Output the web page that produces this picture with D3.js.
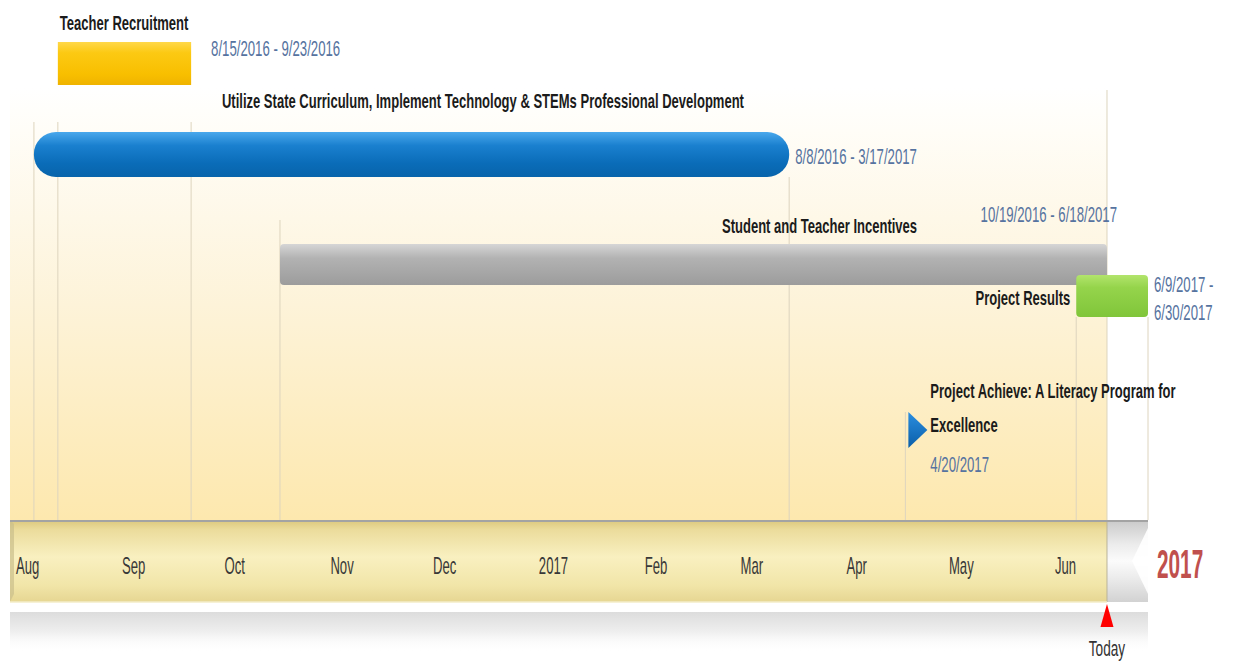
<!DOCTYPE html>
<html>
<head>
<meta charset="utf-8">
<script src="https://cdn.jsdelivr.net/npm/d3@7/dist/d3.min.js"></script>
<style>
  html, body { margin: 0; padding: 0; background: #ffffff; }
  svg { display: block; }
  text { font-family: "Liberation Sans", Arial, sans-serif; }
</style>
</head>
<body>
<svg id="chart" width="1233" height="665"></svg>
<script>
// ---------------- DATA ----------------
const taskNames = [
  "Teacher Recruitment",
  "Utilize State Curriculum,  Implement Technology & STEMs Professional Development",
  "Student and Teacher Incentives",
  "Project Results"
];
const taskStarts = ["2016-08-15", "2016-08-08", "2016-10-19", "2017-06-09"];
const taskEnds   = ["2016-09-23", "2017-03-17", "2017-06-18", "2017-06-30"];
const taskColors = ["yellow", "blue", "gray", "green"];

const milestoneNameLines = [["Project Achieve: A Literacy Program for", "Excellence"]];
const milestoneDates = ["2017-04-20"];

const timelineStart = "2016-08-01";
const timelineEnd   = "2017-06-30";
const todayDate     = "2017-06-18";
const yearLabel     = "2017";
const tickLabels = ["Aug", "Sep", "Oct", "Nov", "Dec", "2017", "Feb", "Mar", "Apr", "May", "Jun"];

// ---------------- SETUP ----------------
const parse = d3.utcParse("%Y-%m-%d");
const fmt = d3.utcFormat("%-m/%-d/%Y");
const svg = d3.select("#chart");
const defs = svg.append("defs");

const x = d3.scaleUtc()
  .domain([parse(timelineStart), parse(timelineEnd)])
  .range([10, 1148]);

const bandTop = 520, bandBottom = 602;
const xToday = x(parse(todayDate));

function grad(id, stops, horizontal) {
  const g = defs.append("linearGradient").attr("id", id)
    .attr("x1", 0).attr("y1", 0).attr("x2", horizontal ? 1 : 0).attr("y2", horizontal ? 0 : 1);
  stops.forEach(s => g.append("stop").attr("offset", s[0]).attr("stop-color", s[1]).attr("stop-opacity", s[2] === undefined ? 1 : s[2]));
  return "url(#" + id + ")";
}

const fills = {
  yellow: grad("gYellow", [[0, "#ffd84a"], [0.25, "#fcc913"], [0.75, "#f8bf00"], [1, "#efb300"]]),
  blue:   grad("gBlue",   [[0, "#4aa8ec"], [0.3, "#1a80cf"], [0.7, "#0a6cb8"], [1, "#0864ab"]]),
  gray:   grad("gGray",   [[0, "#d6d6d6"], [0.35, "#b2b2b2"], [1, "#9c9c9c"]]),
  green:  grad("gGreen",  [[0, "#b2e46c"], [0.3, "#95d44b"], [1, "#80c53a"]])
};
const bgFill = grad("gBg", [[0, "#ffffff"], [0.1, "#fffdf7"], [0.5, "#fdf3d9"], [1, "#fde8ae"]]);
const bandFill = grad("gBand", [[0, "#dcc77c"], [0.12, "#ebdc9c"], [0.45, "#f9f0c0"], [0.8, "#f1e5a8"], [1, "#e6d692"]]);
const endFill = grad("gEnd", [[0, "#c9c9c9"], [0.3, "#ececec"], [0.5, "#fbfbfb"], [0.7, "#ececec"], [1, "#d2d2d2"]]);
const reflFill = grad("gRefl", [[0, "#dcdcdc"], [0.5, "#efefef"], [1, "#ffffff", 0]]);
const msFill = grad("gMs", [[0, "#2a8ee0"], [1, "#0a5ea8"]]);

// layout of the rows (pixel placement, not data)
const rowLayout = [
  { y: 42,  h: 43, rx: 0,  lineTop: 122, label: { dx: 2,   y: 30,  anchor: "start", ref: "start" },
    date: { dx: 20, ys: [56],  anchor: "start", ref: "end" } },
  { y: 132, h: 45, rx: 22, lineTop: 122, endLineTop: 177, label: { dx: 188, y: 108, anchor: "start", ref: "start" },
    date: { dx: 6,  ys: [164], anchor: "start", ref: "end" } },
  { y: 244, h: 41, rx: 4,  lineTop: 220, endLineTop: 90, label: { dx: 442, y: 233, anchor: "start", ref: "start" },
    date: { dx: 10, ys: [222], anchor: "end", ref: "end" } },
  { y: 275, h: 42, rx: 4,  lineTop: 317, label: { dx: -6, y: 305, anchor: "end", ref: "start" },
    date: { dx: 6,  ys: [292, 320], anchor: "start", ref: "end", split: true } }
];

function addText(parent, px, py, str, opts) {
  const g = parent.append("g").attr("transform", `translate(${px},${py}) scale(${opts.sx || 0.62},1)`);
  return g.append("text")
    .attr("x", 0).attr("y", 0)
    .attr("text-anchor", opts.anchor || "start")
    .attr("font-size", opts.size)
    .attr("font-weight", opts.weight || "normal")
    .attr("fill", opts.color)
    .text(str);
}

// ---------------- BACKGROUND ----------------
svg.append("rect").attr("x", x.range()[0]).attr("y", 88)
  .attr("width", xToday - x.range()[0]).attr("height", bandTop - 88)
  .attr("fill", bgFill);

// ---------------- GRID LINES ----------------
const gridG = svg.append("g").attr("stroke", "#ddd4be").attr("stroke-width", 1);
const tasks = taskNames.map((n, i) => ({
  name: n, start: parse(taskStarts[i]), end: parse(taskEnds[i]), color: taskColors[i], lay: rowLayout[i]
}));
tasks.forEach(t => {
  const l = t.lay;
  gridG.append("line").attr("x1", x(t.start)).attr("x2", x(t.start)).attr("y1", l.lineTop).attr("y2", bandTop);
  gridG.append("line").attr("x1", x(t.end)).attr("x2", x(t.end))
    .attr("y1", l.endLineTop !== undefined ? l.endLineTop : l.lineTop).attr("y2", bandTop);
});
const milestones = milestoneDates.map((d, i) => ({ date: parse(d), lines: milestoneNameLines[i] }));
milestones.forEach(m => {
  gridG.append("line").attr("x1", x(m.date)).attr("x2", x(m.date)).attr("y1", 412).attr("y2", bandTop);
});

// ---------------- BARS ----------------
const barG = svg.append("g");
tasks.forEach(t => {
  const l = t.lay;
  barG.append("rect")
    .attr("x", x(t.start)).attr("y", l.y)
    .attr("width", x(t.end) - x(t.start)).attr("height", l.h)
    .attr("rx", l.rx).attr("ry", l.rx)
    .attr("fill", fills[t.color]);
});

// ---------------- TASK LABELS ----------------
const textG = svg.append("g");
tasks.forEach(t => {
  const l = t.lay;
  const lx = (l.label.ref === "start" ? x(t.start) : x(t.end)) + l.label.dx;
  addText(textG, lx, l.label.y, t.name, { size: 21, weight: "bold", color: "#1b1b1b", anchor: l.label.anchor, sx: 0.62 });
  const dx = (l.date.ref === "start" ? x(t.start) : x(t.end)) + l.date.dx;
  const parts = l.date.split ? [fmt(t.start) + " -", fmt(t.end)] : [fmt(t.start) + " - " + fmt(t.end)];
  parts.forEach((p, k) => addText(textG, dx, l.date.ys[k], p, { size: 22, color: "#5673a0", anchor: l.date.anchor, sx: 0.6 }));
});

// ---------------- MILESTONES ----------------
milestones.forEach(m => {
  const mx = x(m.date);
  svg.append("path")
    .attr("d", `M${mx + 3},412 L${mx + 22},430 L${mx + 3},448 Z`)
    .attr("fill", msFill);
  m.lines.forEach((ln, k) => addText(textG, mx + 25, 398 + k * 34, ln, { size: 21, weight: "bold", color: "#1b1b1b", sx: 0.62 }));
  addText(textG, mx + 25, 472, fmt(m.date), { size: 22, color: "#5673a0", sx: 0.6 });
});

// ---------------- TIME BAND ----------------
svg.append("rect").attr("x", x.range()[0]).attr("y", 612)
  .attr("width", x.range()[1] - x.range()[0]).attr("height", 40).attr("fill", reflFill);

svg.append("rect").attr("x", x.range()[0]).attr("y", bandTop)
  .attr("width", xToday - x.range()[0]).attr("height", bandBottom - bandTop)
  .attr("fill", bandFill);
// left bevel shading
svg.append("path")
  .attr("d", `M${x.range()[0]},${bandTop} L${x.range()[0] + 4},${bandTop + 4} L${x.range()[0] + 4},${bandBottom - 8} L${x.range()[0]},${bandBottom} Z`)
  .attr("fill", "#cbbf8c").attr("opacity", 0.7);

// gray end section after today
svg.append("rect").attr("x", xToday).attr("y", bandTop)
  .attr("width", x.range()[1] - xToday).attr("height", bandBottom - bandTop)
  .attr("fill", endFill);
svg.append("path")
  .attr("d", `M${x.range()[1] + 1},${bandTop + 6} L${x.range()[1] - 16},${(bandTop + bandBottom) / 2} L${x.range()[1] + 1},${bandBottom - 6} Z`)
  .attr("fill", "#ffffff").attr("opacity", 0.9);
svg.append("line").attr("x1", xToday).attr("x2", xToday).attr("y1", bandTop).attr("y2", bandBottom)
  .attr("stroke", "#b9b39a").attr("stroke-width", 1);

// band top edge
svg.append("line").attr("x1", x.range()[0]).attr("x2", x.range()[1])
  .attr("y1", bandTop + 1).attr("y2", bandTop + 1)
  .attr("stroke", "#a3a3a3").attr("stroke-width", 2);
svg.append("line").attr("x1", x.range()[0]).attr("x2", xToday)
  .attr("y1", bandBottom).attr("y2", bandBottom)
  .attr("stroke", "#f3ecc8").attr("stroke-width", 1.5);

// month ticks via the scale
const monthDates = d3.utcMonth.range(parse(timelineStart), parse(timelineEnd));
monthDates.forEach((d, i) => {
  addText(svg, x(d) + 6, 574, tickLabels[i], { size: 23, color: "#383838", sx: 0.57 });
});

// year label
addText(svg, x.range()[1] + 9, 578, yearLabel, { size: 40, weight: "bold", color: "#c0504d", sx: 0.52 });

// ---------------- TODAY ----------------
svg.append("path")
  .attr("d", `M${xToday},604 L${xToday + 6.5},627 L${xToday - 6.5},627 Z`)
  .attr("fill", "#ff0000");
addText(svg, xToday, 656, "Today", { size: 22, color: "#333333", anchor: "middle", sx: 0.62 });
</script>
</body>
</html>
